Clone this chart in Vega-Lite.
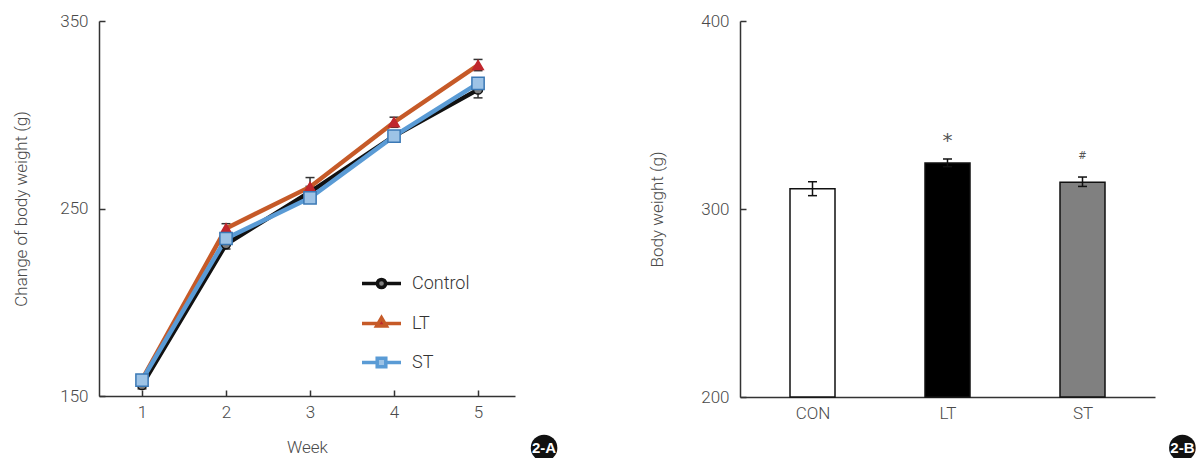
{
  "$schema": "https://vega.github.io/schema/vega-lite/v6.json",
  "background": "white",
  "padding": {"left": 12, "top": 12, "right": 0, "bottom": 0},
  "config": {
    "view": {"stroke": null},
    "font": "Roboto",
    "axis": {"grid": false, "domainColor": "#333333", "domainWidth": 1.5, "tickColor": "#333333", "tickWidth": 1.5, "labelColor": "#4a4a4a", "titleColor": "#4a4a4a", "labelFontSize": 17, "titleFontSize": 17, "labelFontWeight": 300, "titleFontWeight": 300, "labelFont": "Roboto", "titleFont": "Roboto"},
    "concat": {"spacing": 90}
  },
  "resolve": {"scale": {"fill": "independent", "color": "independent"}, "legend": {"color": "independent"}},
  "datasets": {
    "weekly": [
      {"week": 1, "group": "Control", "mean": 155.8, "lo": 153.8, "hi": 157.8},
      {"week": 2, "group": "Control", "mean": 230.9, "lo": 228.4, "hi": 233.4},
      {"week": 3, "group": "Control", "mean": 258.8, "lo": 255.8, "hi": 261.8},
      {"week": 4, "group": "Control", "mean": 288.6, "lo": 286.1, "hi": 291.1},
      {"week": 5, "group": "Control", "mean": 313.4, "lo": 309.0, "hi": 317.8},
      {"week": 1, "group": "LT", "mean": 158.8, "lo": 156.8, "hi": 160.8},
      {"week": 2, "group": "LT", "mean": 239.4, "lo": 236.9, "hi": 241.9},
      {"week": 3, "group": "LT", "mean": 261.5, "lo": 256.5, "hi": 266.5},
      {"week": 4, "group": "LT", "mean": 296.0, "lo": 293.3, "hi": 298.7},
      {"week": 5, "group": "LT", "mean": 326.5, "lo": 323.5, "hi": 329.5},
      {"week": 1, "group": "ST", "mean": 158.5, "lo": 156.5, "hi": 160.5},
      {"week": 2, "group": "ST", "mean": 234.0, "lo": 232.0, "hi": 236.0},
      {"week": 3, "group": "ST", "mean": 255.7, "lo": 253.2, "hi": 258.2},
      {"week": 4, "group": "ST", "mean": 288.6, "lo": 286.6, "hi": 290.6},
      {"week": 5, "group": "ST", "mean": 316.7, "lo": 314.2, "hi": 319.2}
    ],
    "final": [
      {"group": "CON", "pos": 1, "mean": 310.8, "lo": 307.1, "hi": 314.5, "sig": "", "sigY": 320},
      {"group": "LT", "pos": 2, "mean": 324.5, "lo": 322.5, "hi": 326.6, "sig": "*", "sigY": 336.4},
      {"group": "ST", "pos": 3, "mean": 314.2, "lo": 312.0, "hi": 317.0, "sig": "#", "sigY": 328.3}
    ],
    "badgeA": [{"x": 5.786, "y": 122.3, "label": "2-A"}],
    "badgeB": [{"x": 3.74, "y": 172.9, "label": "2-B"}]
  },
  "hconcat": [
    {
      "width": 416,
      "height": 375,
      "layer": [
        {
          "data": {"name": "weekly"},
          "mark": {"type": "rule", "color": "#333333", "strokeWidth": 1.5},
          "encoding": {
            "x": {"field": "week", "type": "quantitative", "scale": {"domain": [0.488, 5.44], "nice": false, "zero": false},
                  "axis": {"values": [1, 2, 3, 4, 5], "format": "d", "title": "Week", "tickSize": -6, "labelPadding": 14, "titlePadding": 19}},
            "y": {"field": "lo", "type": "quantitative", "scale": {"domain": [150, 350], "nice": false, "zero": false},
                  "axis": {"values": [150, 250, 350], "title": "Change of body weight (g)", "tickSize": -6, "labelPadding": 17, "titlePadding": 29}},
            "y2": {"field": "hi"}
          }
        },
        {
          "data": {"name": "weekly"},
          "transform": [{"fold": ["lo", "hi"], "as": ["end", "val"]}],
          "mark": {"type": "tick", "orient": "horizontal", "color": "#333333", "size": 9, "thickness": 1.5, "opacity": 1},
          "encoding": {
            "x": {"field": "week", "type": "quantitative"},
            "y": {"field": "val", "type": "quantitative"}
          }
        },
        {
          "data": {"name": "weekly"},
          "mark": {"type": "line", "strokeWidth": 4.5},
          "encoding": {
            "x": {"field": "week", "type": "quantitative"},
            "y": {"field": "mean", "type": "quantitative"},
            "color": {
              "field": "group", "type": "nominal",
              "scale": {"domain": ["Control", "LT", "ST"], "range": ["#111111", "#c65a28", "#5a9bd5"]},
              "legend": {
                "title": null, "orient": "none", "legendX": 261, "legendY": 241, "padding": 0,
                "symbolSize": 1521, "symbolStrokeWidth": 3.5, "labelFontSize": 18, "labelFontWeight": 300,
                "labelColor": "#333333", "labelOffset": 9, "rowPadding": 7,
                "encode": {
                  "symbols": {
                    "update": {
                      "shape": {"signal": "datum.value === 'Control' ? 'M-1,0H-0.21M0.21,0H1M-0.21,0A0.21,0.21,0,1,1,0.21,0A0.21,0.21,0,1,1,-0.21,0Z' : datum.value === 'LT' ? 'M-1,0H-0.17M0.17,0H1M-0.25,0.13L0,-0.3L0.25,0.13Z' : 'M-1,0H-0.22M0.22,0H1M-0.22,-0.22H0.22V0.22H-0.22Z'"},
                      "fill": {"signal": "datum.value === 'Control' ? '#7f7f7f' : datum.value === 'LT' ? '#c0272d' : '#9dc3e6'"},
                      "size": {"value": 1521},
                      "strokeWidth": {"value": 3.5}
                    }
                  }
                }
              }
            }
          }
        },
        {
          "data": {"name": "weekly"},
          "mark": {"type": "point", "filled": true, "strokeWidth": 1.5, "opacity": 1},
          "encoding": {
            "x": {"field": "week", "type": "quantitative"},
            "y": {"field": "mean", "type": "quantitative"},
            "shape": {"condition": [{"test": "datum.group === 'Control'", "value": "circle"}, {"test": "datum.group === 'LT'", "value": "triangle-up"}], "value": "square"},
            "fill": {"condition": [{"test": "datum.group === 'Control'", "value": "#7f7f7f"}, {"test": "datum.group === 'LT'", "value": "#c0272d"}], "value": "#9dc3e6"},
            "stroke": {"condition": [{"test": "datum.group === 'Control'", "value": "#111111"}, {"test": "datum.group === 'LT'", "value": "#c0272d"}], "value": "#3a78b5"},
            "size": {"condition": [{"test": "datum.group === 'Control'", "value": 80}, {"test": "datum.group === 'LT'", "value": 110}], "value": 150}
          }
        },
        {
          "data": {"name": "badgeA"},
          "mark": {"type": "point", "shape": "circle", "filled": true, "color": "#111111", "size": 707, "opacity": 1, "clip": false},
          "encoding": {
            "x": {"field": "x", "type": "quantitative"},
            "y": {"field": "y", "type": "quantitative"}
          }
        },
        {
          "data": {"name": "badgeA"},
          "mark": {"type": "text", "color": "white", "font": "Liberation Sans", "fontWeight": "bold", "fontSize": 15, "clip": false},
          "encoding": {
            "x": {"field": "x", "type": "quantitative"},
            "y": {"field": "y", "type": "quantitative"},
            "text": {"field": "label"}
          }
        }
      ]
    },
    {
      "width": 415,
      "height": 376,
      "layer": [
        {
          "data": {"name": "final"},
          "mark": {"type": "bar", "size": 45, "stroke": "#111111", "strokeWidth": 1.5},
          "encoding": {
            "x": {"field": "pos", "type": "quantitative", "scale": {"domain": [0.5, 3.5], "nice": false, "zero": false},
                  "axis": {"values": [1, 2, 3], "labelExpr": "datum.value === 1 ? 'CON' : datum.value === 2 ? 'LT' : 'ST'", "ticks": false, "labelPadding": 8, "title": null}},
            "y": {"field": "mean", "type": "quantitative", "scale": {"domain": [200, 400], "nice": false, "zero": false},
                  "axis": {"values": [200, 300, 400], "title": "Body weight (g)", "tickSize": -6, "labelPadding": 17, "titlePadding": 34}},
            "y2": {"datum": 200},
            "fill": {"field": "group", "type": "nominal", "scale": {"domain": ["CON", "LT", "ST"], "range": ["#ffffff", "#000000", "#808080"]}, "legend": null}
          }
        },
        {
          "data": {"name": "final"},
          "mark": {"type": "rule", "color": "#111111", "strokeWidth": 1.5},
          "encoding": {
            "x": {"field": "pos", "type": "quantitative"},
            "y": {"field": "lo", "type": "quantitative"},
            "y2": {"field": "hi"}
          }
        },
        {
          "data": {"name": "final"},
          "transform": [{"fold": ["lo", "hi"], "as": ["end", "val"]}],
          "mark": {"type": "tick", "orient": "horizontal", "color": "#111111", "size": 9, "thickness": 1.5, "opacity": 1},
          "encoding": {
            "x": {"field": "pos", "type": "quantitative"},
            "y": {"field": "val", "type": "quantitative"}
          }
        },
        {
          "data": {"name": "final"},
          "mark": {"type": "text", "color": "#555555", "font": "DejaVu Sans"},
          "encoding": {
            "x": {"field": "pos", "type": "quantitative"},
            "y": {"field": "sigY", "type": "quantitative"},
            "text": {"field": "sig"},
            "size": {"condition": {"test": "datum.sig === '*'", "value": 20}, "value": 10}
          }
        },
        {
          "data": {"name": "badgeB"},
          "mark": {"type": "point", "shape": "circle", "filled": true, "color": "#111111", "size": 707, "opacity": 1, "clip": false},
          "encoding": {
            "x": {"field": "x", "type": "quantitative"},
            "y": {"field": "y", "type": "quantitative"}
          }
        },
        {
          "data": {"name": "badgeB"},
          "mark": {"type": "text", "color": "white", "font": "Liberation Sans", "fontWeight": "bold", "fontSize": 15, "clip": false},
          "encoding": {
            "x": {"field": "x", "type": "quantitative"},
            "y": {"field": "y", "type": "quantitative"},
            "text": {"field": "label"}
          }
        }
      ]
    }
  ]
}
